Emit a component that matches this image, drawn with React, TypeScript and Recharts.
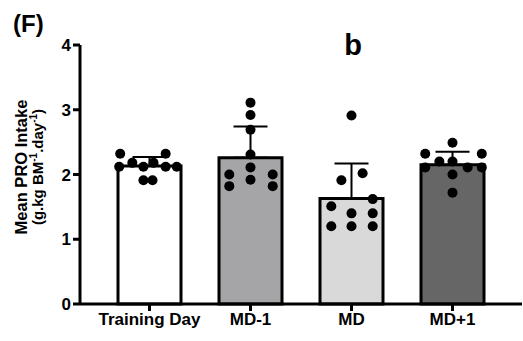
import React from 'react';
import {
  ComposedChart,
  Bar,
  Cell,
  ErrorBar,
  Scatter,
  XAxis,
  YAxis,
  Label,
} from 'recharts';

const categories = ['Training Day', 'MD-1', 'MD', 'MD+1'];
const means = [2.13, 2.26, 1.63, 2.15];
const sds = [0.14, 0.48, 0.54, 0.2];
const barColors = ['#ffffff', '#a5a5a8', '#d9d9d9', '#666666'];

// individual players, x offset is jitter within the category (in category units)
const tdPoints = [
  [-0.29, 2.32], [0.16, 2.32], [-0.3, 2.12], [-0.17, 2.18], [-0.06, 2.12],
  [0.04, 2.18], [0.16, 2.12], [0.27, 2.12], [-0.06, 1.91], [0.03, 1.91],
];
const md1Points = [
  [0, 3.11], [0, 2.92], [0, 2.69], [0, 2.31], [0, 2.11],
  [0, 1.92], [-0.21, 2.0], [-0.21, 1.82], [0.22, 2.0], [0.22, 1.82],
];
const mdPoints = [
  [0, 2.91], [-0.1, 1.91], [0.11, 2.02], [-0.2, 1.51], [0, 1.4],
  [0.21, 1.62], [0.21, 1.4], [-0.2, 1.2], [0, 1.2], [0.21, 1.2],
];
const mdp1Points = [
  [0, 2.49], [-0.27, 2.32], [0.29, 2.32], [-0.13, 2.2], [0, 2.2],
  [-0.27, 2.11], [0.15, 2.11], [0.29, 2.11], [0, 2.0], [0, 1.72],
];

const barData = categories.map((name, i) => ({
  name,
  mean: means[i],
  err: [0, sds[i]],
}));

const dotData = [tdPoints, md1Points, mdPoints, mdp1Points].flatMap((pts, i) =>
  pts.map(([dx, v]) => ({ x: i + dx, y: v }))
);

const FONT = '"Liberation Sans", Arial, sans-serif';

export default function App() {
  return (
    <div style={{ position: 'absolute', left: 0, top: 0, width: 523, height: 341, background: '#fff' }}>
      <style>{'body{margin:0;}'}</style>
      <ComposedChart
        width={523}
        height={341}
        data={barData}
        margin={{ top: 45, right: 1, bottom: 6, left: 0 }}
        style={{ fontFamily: FONT }}
      >
        <XAxis
          xAxisId="cat"
          dataKey="name"
          type="category"
          padding={{ left: 19, right: 19 }}
          stroke="#000"
          strokeWidth={3}
          tickSize={7}
          tickLine={{ stroke: '#000', strokeWidth: 3 }}
          tick={{ fill: '#000', fontSize: 17, fontWeight: 'bold', fontFamily: FONT }}
          height={31}
          interval={0}
        />
        <XAxis
          xAxisId="num"
          dataKey="x"
          type="number"
          domain={[-0.688, 3.688]}
          allowDataOverflow
          hide
        />
        <YAxis
          type="number"
          domain={[0, 4]}
          ticks={[0, 1, 2, 3, 4]}
          width={80}
          stroke="#000"
          strokeWidth={3}
          tickSize={7}
          tickLine={{ stroke: '#000', strokeWidth: 3 }}
          tick={{ fill: '#000', fontSize: 17, fontWeight: 'bold', fontFamily: FONT }}
        >
          <Label
            position="insideLeft"
            content={() => (
              <g transform="translate(0,167) rotate(-90)" fontFamily={FONT} fontWeight="bold" fill="#000" textAnchor="middle">
                <text x={0} y={27} fontSize={16.5}>Mean PRO Intake</text>
                <text x={0} y={43} fontSize={15}>
                  (g.kg BM<tspan dy={-6} fontSize={10}>-1</tspan>
                  <tspan dy={6}>.day</tspan>
                  <tspan dy={-6} fontSize={10}>-1</tspan>
                  <tspan dy={6}>)</tspan>
                </text>
              </g>
            )}
          />
        </YAxis>
        <Bar
          xAxisId="cat"
          dataKey="mean"
          barSize={63}
          stroke="#000"
          strokeWidth={3}
          isAnimationActive={false}
        >
          {barData.map((d, i) => (
            <Cell key={d.name} fill={barColors[i]} />
          ))}
          <ErrorBar dataKey="err" direction="y" width={17} stroke="#000" strokeWidth={2} />
        </Bar>
        <Scatter
          xAxisId="num"
          data={dotData}
          dataKey="y"
          fill="#000"
          isAnimationActive={false}
          shape={(p: any) => <circle cx={p.cx} cy={p.cy} r={5} fill="#000" />}
        />
        <text x={13} y={32} fontSize={24} fontWeight="bold" fontFamily={FONT} fill="#000">(F)</text>
        <text x={353} y={55} fontSize={29} fontWeight="bold" fontFamily={FONT} fill="#000" textAnchor="middle">b</text>
      </ComposedChart>
    </div>
  );
}
